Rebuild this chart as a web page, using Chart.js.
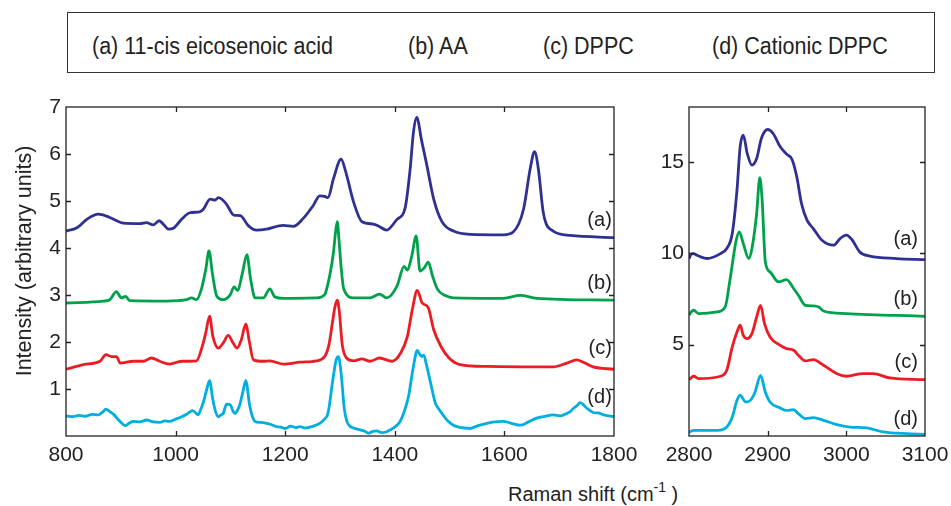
<!DOCTYPE html>
<html>
<head>
<meta charset="utf-8">
<script src="https://cdn.jsdelivr.net/npm/chart.js@4/dist/chart.umd.min.js"></script>
<style>
  body { margin: 0; width: 951px; height: 506px; background: #fff; position: relative; overflow: hidden;
         font-family: "Liberation Sans", Arial, sans-serif; color: #222; }
  #legendBox { position: absolute; left: 67px; top: 12px; width: 866px; height: 59px; border: 1.5px solid #333; }
  .leg { position: absolute; top: 33px; font-size: 23px; line-height: 24px; white-space: nowrap;
         transform: translateY(-50%) scaleX(0.935); transform-origin: left center; }
  canvas { position: absolute; top: 95px; }
  #ylab { position: absolute; left: -126px; top: 249px; width: 300px; height: 24px; line-height: 24px;
          text-align: center; font-size: 21.5px; transform: rotate(-90deg); white-space: nowrap; }
  #xlab { position: absolute; left: 508px; top: 482px; font-size: 20px; line-height: 24px; white-space: nowrap; }
  #xlab sup { font-size: 14px; vertical-align: 9px; line-height: 0; }
</style>
</head>
<body>
<div id="legendBox">
  <span class="leg" style="left:24px">(a) 11-cis eicosenoic acid</span>
  <span class="leg" style="left:340px">(b) AA</span>
  <span class="leg" style="left:475px">(c) DPPC</span>
  <span class="leg" style="left:644px">(d) Cationic DPPC</span>
</div>
<canvas id="fingerprint" width="640" height="380" style="left:0"></canvas>
<canvas id="chStretch" width="311" height="380" style="left:640px"></canvas>
<div id="ylab">Intensity (arbitrary units)</div>
<div id="xlab">Raman shift (cm<sup>-1</sup> )</div>

<script>
// fingerprint region, 800-1800 cm-1
const shiftA = [800,820,838,859,880,905,935,947,959,970,978,987,996,1011,1026,1044,1051,1063,1072,1078,1093,1106,1118,1133,1148,1166,1196,1215,1233,1251,1263,1272,1278,1288,1302,1310,1325,1340,1361,1370,1385,1404,1419,1428,1434,1440,1449,1458,1471,1486,1507,1537,1598,1616,1635,1647,1655,1662,1671,1689,1720,1800];
const intA = [4.36,4.43,4.61,4.72,4.65,4.53,4.52,4.54,4.49,4.58,4.50,4.40,4.42,4.61,4.75,4.77,4.83,5.04,5.02,5.07,4.93,4.70,4.69,4.47,4.38,4.40,4.48,4.46,4.63,4.90,5.11,5.10,5.07,5.47,5.89,5.64,4.97,4.56,4.51,4.47,4.38,4.61,4.86,5.68,6.46,6.78,6.28,5.79,5.04,4.56,4.36,4.29,4.28,4.34,4.83,5.68,6.05,5.68,4.75,4.36,4.27,4.22];

const shiftB = [800,868,880,892,901,909,916,983,1020,1029,1038,1047,1055,1061,1067,1075,1087,1099,1107,1113,1122,1130,1137,1145,1160,1172,1181,1197,1257,1272,1281,1288,1292,1295,1298,1302,1307,1325,1355,1372,1385,1404,1417,1423,1431,1439,1446,1454,1461,1469,1478,1492,1507,1598,1629,1659,1800];
const intB = [2.83,2.87,2.90,3.07,2.94,2.97,2.88,2.87,2.90,2.94,2.90,3.12,3.54,3.94,3.47,2.98,2.90,2.99,3.17,3.10,3.47,3.86,3.33,2.94,2.94,3.13,2.96,2.93,2.94,3.01,3.40,3.90,4.35,4.56,4.20,3.60,3.12,2.94,2.94,3.02,2.94,3.19,3.61,3.53,3.83,4.26,3.51,3.58,3.70,3.40,3.12,2.99,2.94,2.93,2.99,2.93,2.89];

const shiftC = [800,832,862,873,883,892,899,923,941,956,971,989,1011,1038,1047,1055,1062,1068,1078,1087,1096,1105,1112,1120,1128,1135,1142,1160,1172,1197,1227,1257,1272,1280,1286,1291,1295,1299,1304,1312,1325,1340,1355,1372,1395,1411,1423,1432,1441,1450,1461,1471,1484,1499,1519,1568,1689,1714,1732,1744,1762,1800];
const intC = [1.42,1.52,1.59,1.73,1.69,1.69,1.55,1.59,1.59,1.66,1.59,1.53,1.59,1.60,1.84,2.19,2.55,2.12,1.87,1.98,2.14,1.98,1.87,2.05,2.38,1.98,1.62,1.59,1.60,1.53,1.57,1.60,1.69,1.95,2.40,2.76,2.89,2.62,1.95,1.66,1.60,1.64,1.59,1.66,1.59,1.77,2.12,2.69,3.10,2.83,2.73,2.26,1.91,1.66,1.52,1.48,1.47,1.55,1.62,1.57,1.47,1.42];

// the cationic spectrum is the noisiest one, so it is sampled more densely
const shiftD = [800,812,824,836,848,859,866,873,880,887,896,902,908,915,923,935,947,959,971,980,989,1000,1011,1021,1031,1036,1041,1046,1051,1057,1062,1068,1073,1078,1083,1087,1093,1100,1104,1108,1113,1117,1123,1128,1135,1140,1145,1155,1166,1175,1184,1192,1200,1210,1219,1227,1236,1245,1254,1263,1271,1278,1287,1293,1297,1302,1308,1313,1319,1328,1337,1345,1352,1360,1367,1376,1385,1393,1401,1409,1416,1425,1434,1441,1445,1449,1453,1457,1464,1474,1480,1486,1496,1507,1517,1527,1537,1552,1568,1583,1598,1613,1629,1644,1659,1674,1689,1702,1714,1720,1726,1732,1738,1743,1747,1754,1762,1771,1781,1790,1800];
const intD = [0.43,0.41,0.44,0.42,0.46,0.45,0.50,0.57,0.52,0.46,0.34,0.27,0.22,0.27,0.31,0.30,0.34,0.30,0.29,0.32,0.31,0.36,0.41,0.47,0.54,0.50,0.45,0.57,0.73,1.00,1.18,0.77,0.52,0.41,0.45,0.48,0.68,0.66,0.55,0.48,0.55,0.66,0.95,1.18,0.66,0.42,0.31,0.29,0.27,0.24,0.20,0.19,0.16,0.21,0.18,0.20,0.17,0.19,0.22,0.27,0.35,0.48,1.20,1.62,1.69,1.34,0.56,0.30,0.20,0.16,0.13,0.10,0.06,0.10,0.11,0.07,0.09,0.14,0.20,0.30,0.48,0.84,1.48,1.82,1.75,1.69,1.72,1.55,1.20,0.70,0.58,0.48,0.33,0.23,0.19,0.17,0.16,0.22,0.27,0.30,0.31,0.27,0.23,0.30,0.38,0.42,0.45,0.43,0.48,0.52,0.59,0.64,0.71,0.68,0.63,0.56,0.50,0.49,0.45,0.43,0.41];

// C-H stretching region, 2800-3100 cm-1
const chShiftA = [2800,2803,2806,2810,2823,2840,2848,2855,2861,2865,2869,2874,2880,2886,2892,2900,2907,2916,2924,2931,2937,2943,2950,2958,2969,2984,2992,3000,3007,3017,3030,3064,3100];
const chIntA = [9.71,9.95,9.98,9.89,9.71,9.98,10.26,11.08,13.45,15.82,16.46,15.46,14.82,15.18,16.28,16.77,16.55,15.82,15.42,15.13,14.18,12.72,11.81,11.35,10.71,10.44,10.80,10.99,10.75,10.07,9.84,9.71,9.65];

const chShiftB = [2800,2803,2806,2812,2836,2846,2852,2860,2864,2869,2876,2880,2886,2890,2893,2897,2903,2914,2924,2933,2939,2948,2958,2965,2971,3000,3100];
const chIntB = [6.61,6.80,6.88,6.70,6.79,7.06,8.52,10.71,11.17,10.53,9.71,10.26,12.17,14.14,12.90,9.53,8.98,8.43,8.56,8.07,7.70,7.15,7.12,7.06,6.84,6.70,6.55];

const chShiftC = [2800,2803,2806,2812,2840,2848,2855,2861,2865,2869,2874,2880,2886,2891,2896,2903,2916,2924,2933,2939,2948,2958,2971,2988,3000,3021,3034,3055,3100];
const chIntC = [3.08,3.20,3.27,3.14,3.27,3.60,4.87,5.69,6.06,5.51,5.33,5.60,6.51,7.15,6.15,5.42,4.96,4.78,4.69,4.42,4.11,4.18,3.87,3.41,3.27,3.41,3.41,3.18,3.08];

const chShiftD = [2800,2803,2806,2836,2848,2855,2861,2865,2872,2878,2884,2891,2897,2903,2916,2924,2933,2939,2948,2958,2971,2988,3005,3026,3047,3100];
const chIntD = [0.18,0.28,0.31,0.31,0.49,1.04,1.95,2.23,1.86,1.95,2.41,3.32,2.41,1.86,1.53,1.40,1.44,1.22,0.95,1.00,0.86,0.62,0.49,0.44,0.22,0.09];

const tags = ["(a)", "(b)", "(c)", "(d)"];
const colors = ["#2e3192", "#00a14b", "#ed1c24", "#00aee0"];

Chart.defaults.font.family = '"Liberation Sans", Arial, sans-serif';
Chart.defaults.color = "#222";

function pts(xs, ys) {
  return xs.map((x, i) => ({ x: x, y: ys[i] }));
}

// box round the plot area with short inward ticks on all four sides
const frame = {
  id: "frame",
  afterDraw(chart) {
    const { ctx, chartArea: a, scales } = chart;
    ctx.save();
    ctx.strokeStyle = "#222";
    ctx.lineWidth = 1.3;
    ctx.strokeRect(a.left, a.top, a.width, a.height);
    ctx.beginPath();
    scales.x.ticks.forEach((t) => {
      const p = Math.round(scales.x.getPixelForValue(t.value)) + 0.5;
      if (p <= a.left + 2 || p >= a.right - 2) return;
      ctx.moveTo(p, a.bottom); ctx.lineTo(p, a.bottom - 5);
      ctx.moveTo(p, a.top); ctx.lineTo(p, a.top + 5);
    });
    scales.y.ticks.forEach((t) => {
      const p = Math.round(scales.y.getPixelForValue(t.value)) + 0.5;
      if (p <= a.top + 2 || p >= a.bottom - 2) return;
      ctx.moveTo(a.left, p); ctx.lineTo(a.left + 5, p);
      ctx.moveTo(a.right, p); ctx.lineTo(a.right - 5, p);
    });
    ctx.stroke();
    ctx.restore();
  },
};

// (a)..(d) tags next to the right end of each trace
const traceTags = {
  id: "traceTags",
  afterDraw(chart, args, opts) {
    const { ctx, scales } = chart;
    ctx.save();
    ctx.font = '20px "Liberation Sans", Arial, sans-serif';
    ctx.fillStyle = "#222";
    ctx.textAlign = "right";
    ctx.textBaseline = "middle";
    opts.at.forEach((y, i) => {
      ctx.fillText(tags[i], scales.x.getPixelForValue(opts.x), scales.y.getPixelForValue(y));
    });
    ctx.restore();
  },
};

function makeChart(id, series, xr, yr, yWidth, tagPos) {
  return new Chart(document.getElementById(id), {
    type: "line",
    data: {
      datasets: series.map((s, i) => ({
        data: pts(s[0], s[1]),
        borderColor: colors[i],
        borderWidth: 2.8,
        pointRadius: 0,
        cubicInterpolationMode: "monotone",
      })),
    },
    options: {
      responsive: false,
      animation: false,
      layout: { padding: { top: 12, right: 26, left: 0, bottom: 0 } },
      plugins: { legend: { display: false }, tooltip: { enabled: false }, traceTags: tagPos },
      scales: {
        x: {
          type: "linear", min: xr[0], max: xr[1],
          ticks: { stepSize: xr[2], padding: 7, font: { size: 21 }, maxRotation: 0, callback: (v) => String(v) },
          grid: { display: false, drawTicks: false },
          border: { display: false },
          afterFit(s) { s.height = 39; s.paddingLeft = 0; s.paddingRight = 0; },
        },
        y: {
          min: yr[0], max: yr[1],
          ticks: { stepSize: yr[2], padding: 5, font: { size: 21 }, callback: (v) => String(v) },
          afterBuildTicks(s) { s.ticks = s.ticks.filter((t) => t.value > 0 && t.value % yr[2] === 0); },
          grid: { display: false, drawTicks: false },
          border: { display: false },
          afterFit(s) { s.width = yWidth; s.paddingTop = 0; s.paddingBottom = 0; },
        },
      },
    },
    plugins: [frame, traceTags],
  });
}

makeChart("fingerprint",
  [[shiftA, intA], [shiftB, intB], [shiftC, intC], [shiftD, intD]],
  [800, 1800, 200], [0, 7, 1], 66,
  { x: 1796, at: [4.59, 3.25, 1.86, 0.83] });

makeChart("chStretch",
  [[chShiftA, chIntA], [chShiftB, chIntB], [chShiftC, chIntC], [chShiftD, chIntD]],
  [2800, 3100, 100], [0, 18, 5], 49,
  { x: 3091, at: [10.77, 7.47, 4.01, 0.93] });
</script>
</body>
</html>
